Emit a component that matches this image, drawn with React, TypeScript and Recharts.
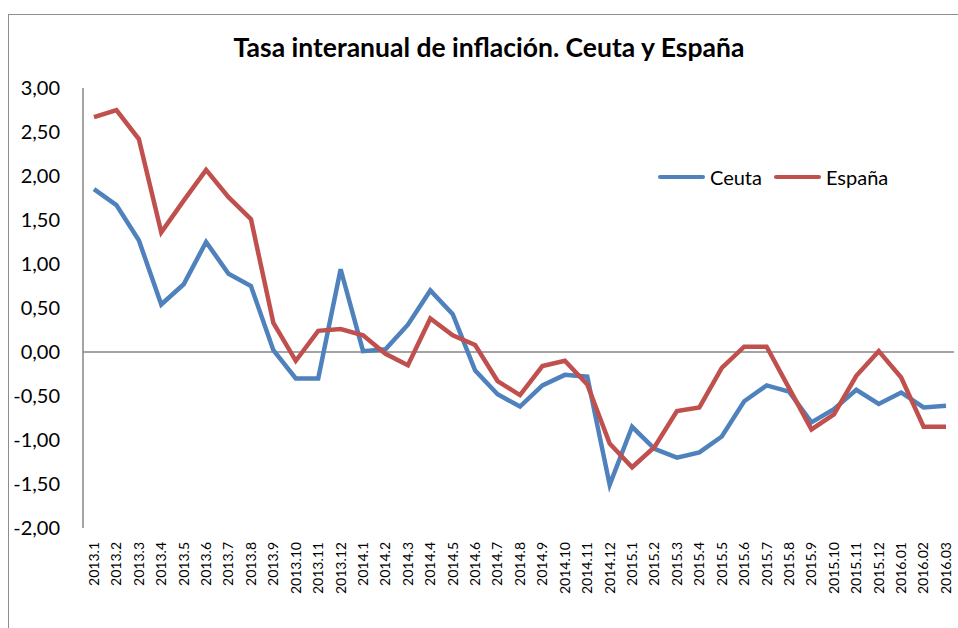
import { LineChart, Line, XAxis, YAxis, ReferenceLine } from "recharts";

const periods = [
  "2013.1", "2013.2", "2013.3", "2013.4", "2013.5", "2013.6", "2013.7", "2013.8", "2013.9", "2013.10", "2013.11", "2013.12",
  "2014.1", "2014.2", "2014.3", "2014.4", "2014.5", "2014.6", "2014.7", "2014.8", "2014.9", "2014.10", "2014.11", "2014.12",
  "2015.1", "2015.2", "2015.3", "2015.4", "2015.5", "2015.6", "2015.7", "2015.8", "2015.9", "2015.10", "2015.11", "2015.12",
  "2016.01", "2016.02", "2016.03",
];

const ceuta = [
  1.85, 1.67, 1.27, 0.54, 0.77, 1.25, 0.89, 0.75, 0.02, -0.3, -0.3, 0.94,
  0.01, 0.03, 0.31, 0.7, 0.43, -0.21, -0.48, -0.62, -0.38, -0.26, -0.28, -1.51,
  -0.85, -1.1, -1.2, -1.14, -0.96, -0.56, -0.38, -0.45, -0.8, -0.65, -0.43, -0.59,
  -0.46, -0.63, -0.61,
];

const espana = [
  2.67, 2.75, 2.42, 1.36, 1.72, 2.07, 1.76, 1.51, 0.33, -0.1, 0.24, 0.26,
  0.19, -0.02, -0.15, 0.38, 0.19, 0.08, -0.33, -0.49, -0.16, -0.1, -0.37, -1.04,
  -1.31, -1.08, -0.67, -0.63, -0.18, 0.06, 0.06, -0.41, -0.88, -0.71, -0.27, 0.01,
  -0.29, -0.85, -0.85,
];

const yTicks = [-2, -1.5, -1, -0.5, 0, 0.5, 1, 1.5, 2, 2.5, 3];

const series = [
  { key: "ceuta", name: "Ceuta", color: "#4F81BD" },
  { key: "espana", name: "España", color: "#C0504D" },
];

const data = periods.map((p, i) => ({ period: p, ceuta: ceuta[i], espana: espana[i] }));

const font = "Lato, 'Open Sans', sans-serif";
const fmt = (v: number) => v.toFixed(2).replace(".", ",");

const PeriodTick = (props: any) => {
  const { x, y, payload } = props;
  return (
    <text
      transform={`translate(${x},${y}) rotate(-90)`}
      textAnchor="end"
      dy="0.35em"
      fontSize={14}
      fontFamily={font}
      fill="#000"
    >
      {payload.value}
    </text>
  );
};

export default function App() {
  return (
    <div style={{ position: "fixed", left: 0, top: 0, width: 958, height: 628, overflow: "hidden", background: "#fff" }}>
      <div
        style={{
          position: "absolute",
          left: 8,
          top: 14,
          width: 1000,
          height: 700,
          border: "1px solid #8e8e8e",
          fontFamily: font,
        }}
      >
        <div
          style={{
            position: "absolute",
            left: 0,
            width: 960,
            top: 16,
            textAlign: "center",
            fontSize: 26.5,
            fontWeight: 700,
          }}
        >
          Tasa interanual de inflación. Ceuta y España
        </div>
        <div style={{ position: "absolute", left: 649, top: 150, display: "flex", alignItems: "center", fontSize: 20 }}>
          {series.map((s) => (
            <div key={s.key} style={{ display: "flex", alignItems: "center", marginRight: 12 }}>
              <div style={{ width: 47, height: 4.5, borderRadius: 2, background: s.color, marginRight: 5 }} />
              <span>{s.name}</span>
            </div>
          ))}
        </div>
        <LineChart width={1000} height={640} data={data} margin={{ top: 73, right: 55, bottom: 27, left: 0 }}>
          <XAxis
            dataKey="period"
            axisLine={false}
            tickLine={false}
            interval={0}
            height={100}
            padding={{ left: 11, right: 8 }}
            tick={<PeriodTick />}
            tickMargin={8}
          />
          <YAxis
            domain={[-2, 3]}
            ticks={yTicks}
            width={74}
            tickFormatter={fmt}
            axisLine={{ stroke: "#868686", strokeWidth: 1.5 }}
            tickLine={false}
            tickSize={0}
            tickMargin={23}
            tick={{ fontSize: 20, fill: "#000", fontFamily: font }}
          />
          <ReferenceLine y={0} stroke="#868686" strokeWidth={1.5} />
          {series.map((s) => (
            <Line
              key={s.key}
              type="linear"
              dataKey={s.key}
              name={s.name}
              stroke={s.color}
              strokeWidth={4.5}
              dot={false}
              isAnimationActive={false}
            />
          ))}
        </LineChart>
      </div>
    </div>
  );
}
